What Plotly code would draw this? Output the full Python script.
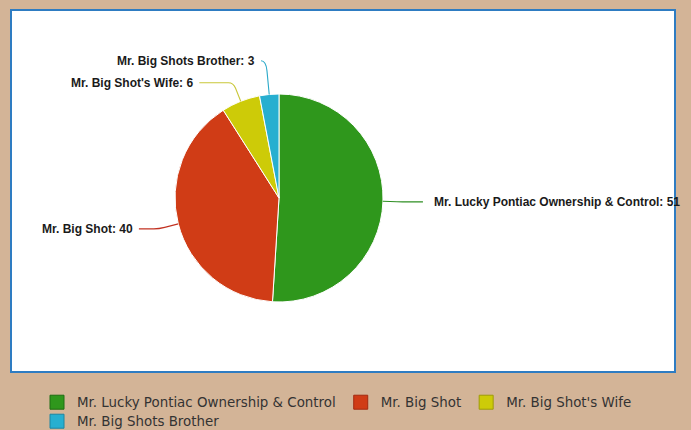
import math
import plotly.graph_objects as go

# ---- data ----
labels = ["Mr. Lucky Pontiac Ownership & Control", "Mr. Big Shot",
          "Mr. Big Shot's Wife", "Mr. Big Shots Brother"]
values = [51, 40, 6, 3]

# ---- style ----
slice_colors = ["#2F971C", "#D03C16", "#CDCB08", "#27AFD0"]
edge_colors = ["#1E6E12", "#A32A10", "#9E9C08", "#1C86A2"]
leader_colors = ["#2E8E22", "#C23222", "#C9C73A", "#2AA9C9"]
legend_rows = ["legend", "legend", "legend", "legend2"]
hlens = [20, 20, 34, 5]
W, H = 691, 430
cx, cy, R = 279, 198, 104
BG = "#D3B497"


def px(x):
    return x / W


def py(y):
    return 1 - y / H


fig = go.Figure()
fig.add_trace(go.Pie(
    labels=labels, values=values, sort=False, direction="clockwise", rotation=0,
    marker=dict(colors=slice_colors, line=dict(color="white", width=1)),
    textinfo="none", hoverinfo="label+value", showlegend=False,
    domain=dict(x=[px(cx - R), px(cx + R)], y=[py(cy + R), py(cy - R)]),
))

# legend entries (one per category)
for i, lab in enumerate(labels):
    fig.add_trace(go.Scatter(
        x=[None], y=[None], mode="markers", name=lab, legend=legend_rows[i],
        marker=dict(symbol="square", size=14, color=slice_colors[i],
                    line=dict(color=edge_colors[i], width=1)),
        hoverinfo="skip",
    ))

# ---- callout geometry derived from values ----
total = sum(values)
cum = 0
items = []
for i, v in enumerate(values):
    f = (cum + v / 2) / total
    cum += v
    th = 2 * math.pi * f
    ux, uy = math.sin(th), -math.cos(th)
    edge = (cx + R * ux, cy + R * uy)
    elbow = (cx + (R + 20) * ux, cy + (R + 20) * uy)
    items.append(dict(i=i, ux=ux, uy=uy, edge=edge, y=elbow[1], side=1 if ux >= 0 else -1))

# avoid overlapping labels on each side
for side in (1, -1):
    grp = sorted([it for it in items if it["side"] == side], key=lambda d: -d["y"])
    for a, b in zip(grp, grp[1:]):
        if a["y"] - b["y"] < 22:
            b["y"] = a["y"] - 22

shapes = [dict(type="rect", xref="paper", yref="paper", x0=px(11), x1=px(675),
               y0=py(372), y1=py(10), fillcolor="white",
               line=dict(color="#2E7CC2", width=2), layer="below")]
annotations = []
for it in items:
    i = it["i"]
    t = (it["y"] - cy) / it["uy"] if abs(it["uy"]) > 1e-6 else R + 20
    ex, ey = cx + t * it["ux"], cy + t * it["uy"]
    x0, y0 = it["edge"]
    p1 = (x0 + 0.7 * (ex - x0), y0 + 0.7 * (ey - y0))
    p3 = (ex + it["side"] * min(5, hlens[i]), ey)
    end = (ex + it["side"] * hlens[i], ey)
    path = (f"M {px(x0)},{py(y0)} L {px(p1[0])},{py(p1[1])} "
            f"Q {px(ex)},{py(ey)} {px(p3[0])},{py(p3[1])} L {px(end[0])},{py(end[1])}")
    shapes.append(dict(type="path", xref="paper", yref="paper", path=path,
                       line=dict(color=leader_colors[i], width=1.1)))
    gap = 9 if it["side"] > 0 else 4
    annotations.append(dict(
        x=px(end[0] + it["side"] * gap), y=py(end[1]), xref="paper", yref="paper",
        text=f"{labels[i]}: {values[i]}", showarrow=False,
        xanchor="left" if it["side"] > 0 else "right", yanchor="middle",
        font=dict(family="Liberation Sans, Arial", size=12, color="#1a1a1a", weight="bold"),
    ))

legend_style = dict(orientation="h", xanchor="left", yanchor="top",
                    font=dict(family="DejaVu Sans", size=13.4, color="#333333"),
                    bgcolor="rgba(0,0,0,0)", traceorder="normal")
fig.update_layout(
    width=W, height=H, paper_bgcolor=BG, plot_bgcolor=BG,
    margin=dict(l=0, r=0, t=0, b=0, autoexpand=False),
    xaxis=dict(visible=False), yaxis=dict(visible=False),
    shapes=shapes, annotations=annotations,
    showlegend=True,
    legend=dict(x=px(37), y=py(387), **legend_style),
    legend2=dict(x=px(37), y=py(406), **legend_style),
)
fig.write_html("out.html")
